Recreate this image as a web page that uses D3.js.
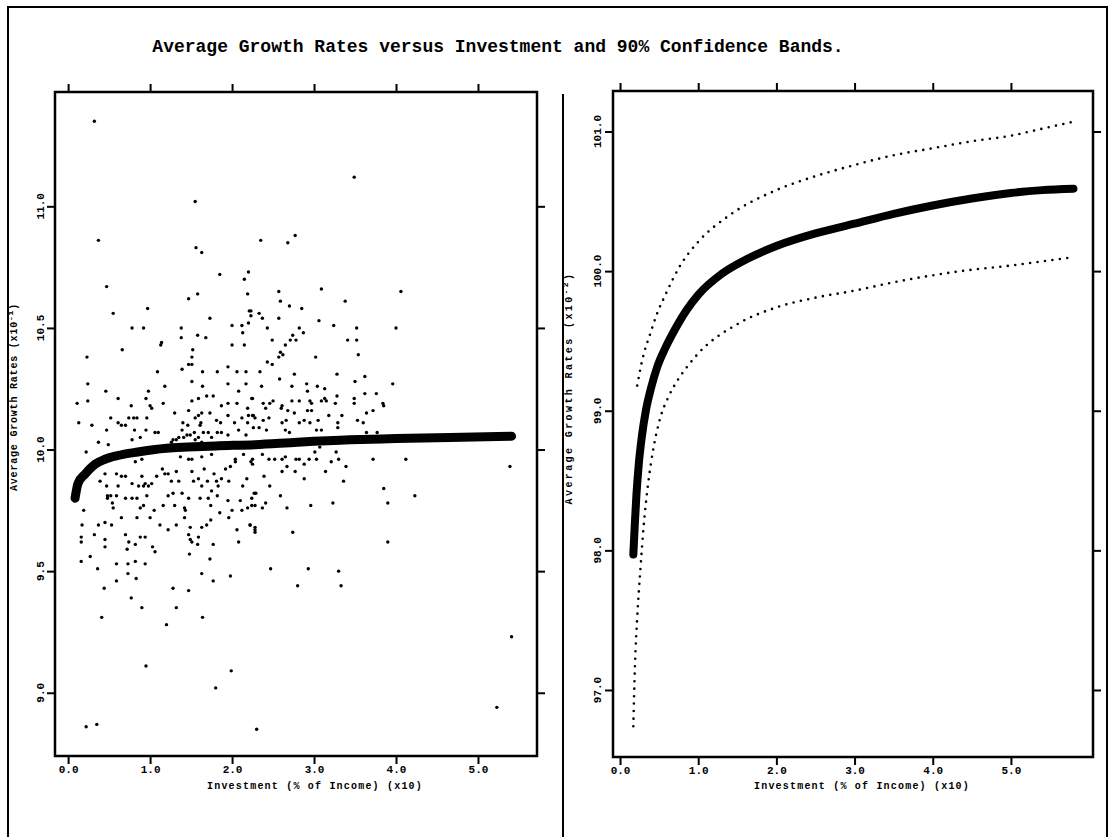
<!DOCTYPE html>
<html><head><meta charset="utf-8">
<script src="https://cdnjs.cloudflare.com/ajax/libs/d3/7.8.5/d3.min.js"></script>
<style>body{margin:0;background:#fff}svg{display:block}</style>
</head><body><svg id="c" width="1112" height="837"></svg>
<script>
const titleText = "Average Growth Rates versus Investment and 90% Confidence Bands.";
const xTickValues = [0, 1, 2, 3, 4, 5];
const yTicksLeft = [9.0, 9.5, 10.0, 10.5, 11.0];
const yTicksRight = [97.0, 98.0, 99.0, 100.0, 101.0];

// left panel: scatter of observations (investment, growth)
const scatter = [
[1.63,10.81],[1.85,10.72],[2.20,10.73],[0.47,10.67],[2.15,10.70],[1.58,10.64],[2.19,10.64],[1.47,10.62],
[0.97,10.58],[2.21,10.57],[0.55,10.56],[1.73,10.54],[2.23,10.55],[0.78,10.50],[0.92,10.50],[1.38,10.50],
[2.00,10.51],[2.12,10.51],[2.20,10.52],[1.58,10.47],[1.68,10.46],[1.38,10.46],[2.13,10.48],[1.14,10.44],
[1.13,10.43],[2.00,10.43],[2.15,10.43],[0.66,10.41],[1.52,10.41],[0.23,10.38],[1.51,10.38],[1.47,10.35],
[1.51,10.35],[1.39,10.33],[1.95,10.34],[2.06,10.32],[2.17,10.32],[1.82,10.32],[1.64,10.32],[1.09,10.32],
[1.51,10.28],[0.24,10.27],[1.18,10.26],[1.64,10.26],[1.95,10.27],[2.17,10.27],[0.46,10.24],[0.98,10.24],
[2.08,10.24],[0.61,10.21],[0.95,10.21],[1.59,10.21],[1.69,10.22],[1.77,10.22],[2.24,10.21],[0.11,10.19],
[0.24,10.20],[0.77,10.18],[1.00,10.18],[1.02,10.17],[1.16,10.19],[1.51,10.20],[1.95,10.19],[2.06,10.19],
[1.87,10.18],[2.19,10.17],[0.52,10.13],[0.74,10.13],[0.80,10.13],[0.84,10.13],[0.96,10.13],[1.30,10.15],
[1.47,10.16],[1.63,10.15],[1.73,10.15],[1.59,10.14],[1.55,10.13],[1.95,10.14],[2.12,10.13],[2.20,10.14],
[2.26,10.14],[0.13,10.11],[0.29,10.10],[0.61,10.11],[0.65,10.10],[0.70,10.10],[1.40,10.11],[1.46,10.10],
[1.62,10.11],[1.81,10.12],[1.86,10.11],[2.03,10.11],[2.19,10.11],[0.47,10.08],[0.81,10.08],[0.95,10.08],
[1.06,10.07],[1.10,10.07],[1.39,10.08],[1.61,10.10],[1.65,10.07],[1.54,10.07],[1.71,10.07],[1.82,10.07],
[1.87,10.07],[2.08,10.08],[2.17,10.06],[1.95,10.06],[0.37,10.03],[0.49,10.02],[0.22,9.99],[0.78,10.04],
[0.88,10.05],[1.26,10.03],[1.28,10.04],[1.32,10.04],[1.35,10.05],[1.41,10.05],[1.45,10.06],[1.49,10.06],
[1.55,10.04],[1.59,10.05],[1.63,10.03],[1.75,10.05],
[0.54,9.98],[0.67,9.97],[0.82,9.95],[0.90,9.96],[1.37,9.97],[1.47,9.96],[1.51,9.96],[1.63,9.97],
[1.75,9.98],[2.04,9.96],[2.14,9.98],[2.23,9.95],[0.39,9.87],[0.45,9.90],[0.59,9.90],[0.65,9.89],
[0.70,9.89],[0.90,9.89],[1.08,9.89],[1.15,9.92],[1.18,9.90],[1.22,9.90],[1.26,9.87],[1.32,9.91],
[1.35,9.87],[1.51,9.91],[1.53,9.87],[1.59,9.88],[1.66,9.92],[1.70,9.87],[1.78,9.90],[1.81,9.87],
[1.87,9.88],[1.92,9.92],[1.98,9.93],[1.96,9.87],[2.04,9.95],[2.18,9.88],[2.25,9.94],[0.47,9.85],
[0.61,9.85],[0.78,9.86],[0.86,9.85],[0.92,9.85],[0.94,9.86],[1.02,9.86],[0.98,9.85],[1.63,9.85],
[1.75,9.83],[1.83,9.85],[2.13,9.85],[2.27,9.82],[0.48,9.81],[0.48,9.80],[0.52,9.81],[0.59,9.81],
[0.70,9.80],[0.78,9.80],[0.84,9.80],[0.96,9.81],[1.22,9.81],[1.28,9.82],[1.39,9.82],[1.47,9.80],
[1.61,9.80],[1.71,9.80],[1.82,9.81],[1.95,9.79],[2.10,9.79],[2.24,9.80],[0.19,9.75],[0.54,9.78],
[0.55,9.76],[0.88,9.76],[0.92,9.77],[1.05,9.75],[1.16,9.77],[1.30,9.77],[1.42,9.76],[1.43,9.75],
[1.74,9.77],[1.85,9.74],[2.00,9.75],[2.12,9.75],[2.19,9.76],[2.28,9.77],[0.17,9.69],[0.37,9.69],
[0.45,9.70],[0.53,9.69],[0.65,9.72],[0.84,9.72],[1.00,9.72],[1.12,9.69],[1.22,9.67],[1.32,9.69],
[1.42,9.72],[1.49,9.68],[1.63,9.68],[1.69,9.69],[1.74,9.71],[1.96,9.72],[2.06,9.67],[2.22,9.69],
[2.28,9.67],[0.16,9.64],[0.16,9.62],[0.32,9.65],[0.45,9.63],[0.45,9.60],[0.70,9.65],[0.74,9.62],
[0.82,9.61],[0.88,9.64],[0.94,9.64],[1.03,9.60],[1.06,9.58],[1.47,9.65],[1.49,9.63],[1.59,9.64],
[1.51,9.62],[1.58,9.61],[1.77,9.61],[2.08,9.62],[0.16,9.54],[0.27,9.56],[0.36,9.51],[0.59,9.53],
[0.73,9.53],[0.82,9.54],[0.94,9.53],[0.72,9.59],[1.48,9.57],[1.73,9.55],[0.44,9.43],[0.59,9.46],
[0.73,9.49],[0.83,9.47],[1.28,9.43],[1.47,9.42],[1.63,9.49],[1.77,9.46],[1.98,9.48],[0.77,9.39],
[0.90,9.35],[1.32,9.35],[0.41,9.31],[1.20,9.28],[1.64,9.31],
[3.09,10.66],[2.57,10.65],[4.06,10.65],[2.59,10.61],[2.70,10.59],[2.85,10.58],[3.38,10.61],[2.23,10.57],
[2.33,10.56],[2.37,10.54],[2.57,10.54],[3.06,10.53],[3.24,10.51],[4.00,10.50],[2.43,10.50],[2.82,10.50],
[3.52,10.50],[2.87,10.48],[2.49,10.45],[2.74,10.47],[2.78,10.45],[2.71,10.45],[3.41,10.45],[3.52,10.45],
[2.65,10.43],[2.59,10.40],[2.62,10.39],[2.57,10.38],[3.02,10.38],[3.54,10.39],[2.43,10.36],[2.49,10.35],
[2.34,10.32],[2.76,10.31],[3.28,10.31],[3.62,10.30],[2.58,10.29],[3.50,10.28],[3.96,10.27],[2.36,10.26],
[2.73,10.26],[2.91,10.27],[3.04,10.26],[3.13,10.25],[2.92,10.24],[3.62,10.23],[3.76,10.23],[2.25,10.21],
[2.38,10.19],[2.46,10.19],[2.50,10.20],[2.73,10.20],[2.82,10.20],[2.95,10.20],[2.97,10.19],[3.09,10.20],
[3.13,10.21],[3.15,10.20],[3.28,10.22],[3.26,10.19],[3.49,10.21],[3.49,10.19],[3.84,10.19],[3.85,10.18],
[2.41,10.17],[2.61,10.18],[2.60,10.17],[2.68,10.16],[2.76,10.15],[2.92,10.16],[2.97,10.16],[3.18,10.14],
[3.34,10.14],[3.64,10.15],[3.72,10.16],[2.25,10.14],[2.28,10.13],[2.38,10.12],[2.45,10.13],[2.66,10.12],
[2.61,10.11],[2.82,10.11],[2.88,10.12],[2.95,10.11],[3.05,10.12],[3.29,10.11],[3.53,10.12],[3.60,10.11],
[2.26,10.09],[2.33,10.09],[2.42,10.08],[2.65,10.08],[2.70,10.07],[3.03,10.08],[3.09,10.08],[3.29,10.09],
[3.64,10.07],[3.77,10.07],
[2.25,9.96],[2.37,9.98],[2.45,9.96],[2.52,9.96],[2.61,9.96],[2.65,9.97],[2.78,9.96],[2.82,9.96],
[2.88,9.94],[2.94,9.96],[3.01,9.99],[3.03,9.96],[3.07,10.01],[3.21,9.95],[3.27,9.99],[3.30,9.96],
[3.39,9.93],[3.72,9.96],[4.12,9.96],[2.39,9.89],[2.61,9.91],[2.67,9.93],[2.77,9.91],[2.88,9.88],
[3.14,9.91],[3.36,9.87],[2.46,9.85],[3.85,9.84],[4.23,9.81],[2.59,9.81],[2.29,9.82],[2.24,9.77],
[2.37,9.76],[2.41,9.78],[2.67,9.76],[2.96,9.77],[3.23,9.78],[3.90,9.78],[2.22,9.69],[2.28,9.68],
[2.28,9.66],[2.74,9.66],[3.90,9.62],[2.47,9.51],[2.93,9.51],[3.30,9.50],[2.80,9.44],[3.33,9.44],
[0.32,11.35],[0.37,10.86],[1.55,11.02],[1.56,10.83],[2.35,10.86],[2.68,10.85],[2.77,10.88],[3.49,11.12],
[0.22,8.86],[0.35,8.87],[0.95,9.11],[1.80,9.02],[1.99,9.09],[2.30,8.85],[5.23,8.94],[5.39,9.93],[5.41,9.23]
];

// left panel: fitted average growth curve
const fitLeft = [
[0.085,9.80],[0.12,9.86],[0.21,9.90],[0.33,9.94],[0.45,9.96],[0.60,9.975],[0.85,9.99],[1.20,10.005],
[1.46,10.01],[1.80,10.015],[2.28,10.02],[2.80,10.03],[3.44,10.04],[4.00,10.045],[4.66,10.05],[5.41,10.055]
];

// right panel: fitted curve and 90% confidence bands
const fitRight = [
[0.17,97.97],[0.19,98.20],[0.21,98.40],[0.24,98.62],[0.28,98.82],[0.33,99.00],[0.40,99.17],[0.48,99.32],
[0.58,99.45],[0.70,99.58],[0.85,99.72],[1.0,99.83],[1.3,99.98],[1.6,100.08],[2.0,100.18],[2.5,100.27],
[3.0,100.34],[3.5,100.41],[4.0,100.47],[4.5,100.52],[5.0,100.56],[5.4,100.58],[5.8,100.59]
];
const upperBand = [
[0.22,99.18],[0.26,99.30],[0.31,99.42],[0.38,99.54],[0.47,99.69],[0.58,99.83],[0.77,100.04],[1.0,100.21],
[1.4,100.40],[2.0,100.58],[2.5,100.68],[3.0,100.76],[3.5,100.83],[4.0,100.88],[4.5,100.93],[5.0,100.97],
[5.4,101.02],[5.8,101.07]
];
const lowerBand = [
[0.17,96.74],[0.19,97.16],[0.22,97.52],[0.26,97.86],[0.30,98.16],[0.36,98.48],[0.43,98.74],[0.51,98.94],
[0.62,99.10],[0.75,99.23],[0.88,99.33],[1.0,99.41],[1.5,99.62],[2.0,99.74],[2.5,99.81],[3.0,99.86],
[3.5,99.92],[4.0,99.97],[4.5,100.01],[5.0,100.04],[5.4,100.07],[5.8,100.10]
];

const svg = d3.select("#c");
const FONT = "'Liberation Mono', 'DejaVu Sans Mono', monospace";

// outer frame and divider
svg.append("path").attr("d","M8,837 L8,7 L1107,7 L1107,837").attr("fill","none").attr("stroke","#000").attr("stroke-width",2);
svg.append("line").attr("x1",563).attr("x2",563).attr("y1",94).attr("y2",837).attr("stroke","#000").attr("stroke-width",2);

svg.append("text").attr("x",498).attr("y",52).attr("text-anchor","middle")
  .attr("font-family",FONT).attr("font-weight","bold").attr("font-size",18).text(titleText);

function panel(opt){
  const {x,y,yTicks,yFmt,labelX,yTitleX,yTitleY,sup,xTitleX,yTitleSpacing} = opt;
  const g = svg.append("g");
  const [x0,x1] = x.range(), [y0,y1] = y.range();
  g.append("rect").attr("x",x0).attr("y",y1).attr("width",x1-x0).attr("height",y0-y1)
    .attr("fill","none").attr("stroke","#000").attr("stroke-width",2.5);
  const ts = 8;
  const ax = (gen, tr) => g.append("g").attr("transform",tr).call(gen)
     .call(s=>{s.select(".domain").remove(); s.selectAll("line").attr("stroke-width",2);});
  ax(d3.axisBottom(x).tickValues(xTickValues).tickSize(ts).tickSizeOuter(0).tickFormat(d3.format(".1f")), `translate(0,${y0})`)
     .selectAll("text").attr("font-family",FONT).attr("font-weight","bold").attr("font-size",11).attr("dy","0.55em");
  ax(d3.axisTop(x).tickValues(xTickValues).tickSize(ts).tickFormat(""), `translate(0,${y1})`);
  ax(d3.axisLeft(y).tickValues(yTicks).tickSize(ts).tickFormat(""), `translate(${x0},0)`);
  ax(d3.axisRight(y).tickValues(yTicks).tickSize(ts).tickFormat(""), `translate(${x1},0)`);
  // rotated y tick labels
  g.selectAll(".ylab").data(yTicks).join("text")
    .attr("transform", d=>`translate(${labelX},${y(d)}) rotate(-90)`)
    .attr("text-anchor","middle").attr("dy","0.35em")
    .attr("font-family",FONT).attr("font-weight","bold").attr("font-size",11)
    .text(d=>yFmt(d));
  // y title
  const yt = g.append("text").attr("transform",`translate(${yTitleX},${yTitleY}) rotate(-90)`)
    .attr("text-anchor","middle").attr("font-family",FONT).attr("font-weight","bold")
    .attr("font-size",10).attr("letter-spacing",yTitleSpacing);
  yt.append("tspan").text("Average Growth Rates  (x10");
  yt.append("tspan").attr("baseline-shift","super").attr("font-size",8).text(sup);
  yt.append("tspan").text(")");
  // x title
  g.append("text").attr("x",xTitleX).attr("y",789).attr("text-anchor","middle")
    .attr("font-family",FONT).attr("font-weight","bold").attr("font-size",10).attr("letter-spacing",1.2)
    .text("Investment (% of Income)  (x10)");
  return g;
}

// left panel
const xL = d3.scaleLinear().domain([-0.16,5.72]).range([55,537]);
const yL = d3.scaleLinear().domain([8.74,11.47]).range([756,92]);
const gL = panel({x:xL,y:yL,yTicks:yTicksLeft,yFmt:d3.format(".1f"),labelX:40,yTitleX:17,yTitleY:397,sup:"-1",xTitleX:315,yTitleSpacing:0.8});
gL.append("g").selectAll("circle").data(scatter).join("circle")
  .attr("cx",d=>xL(d[0])).attr("cy",d=>yL(d[1])).attr("r",1.7).attr("fill","#000");
gL.append("path").datum(fitLeft)
  .attr("d",d3.line().x(d=>xL(d[0])).y(d=>yL(d[1])).curve(d3.curveMonotoneX))
  .attr("fill","none").attr("stroke","#000").attr("stroke-width",9).attr("stroke-linecap","round");

// right panel
const xR = d3.scaleLinear().domain([-0.09,6.05]).range([613,1093]);
const yR = d3.scaleLinear().domain([96.52,101.29]).range([757,91]);
const gR = panel({x:xR,y:yR,yTicks:yTicksRight,yFmt:d3.format(".1f"),labelX:597,yTitleX:572,yTitleY:388,sup:"-2",xTitleX:862,yTitleSpacing:2.4});
const lineR = d3.line().x(d=>xR(d[0])).y(d=>yR(d[1])).curve(d3.curveMonotoneX);
[upperBand, lowerBand].forEach(b=>{
  gR.append("path").datum(b).attr("d",lineR).attr("fill","none").attr("stroke","#000")
    .attr("stroke-width",2.6).attr("stroke-linecap","round").attr("stroke-dasharray","0 7.5");
});
gR.append("path").datum(fitRight).attr("d",lineR).attr("fill","none").attr("stroke","#000")
  .attr("stroke-width",8).attr("stroke-linecap","round");
</script></body></html>
